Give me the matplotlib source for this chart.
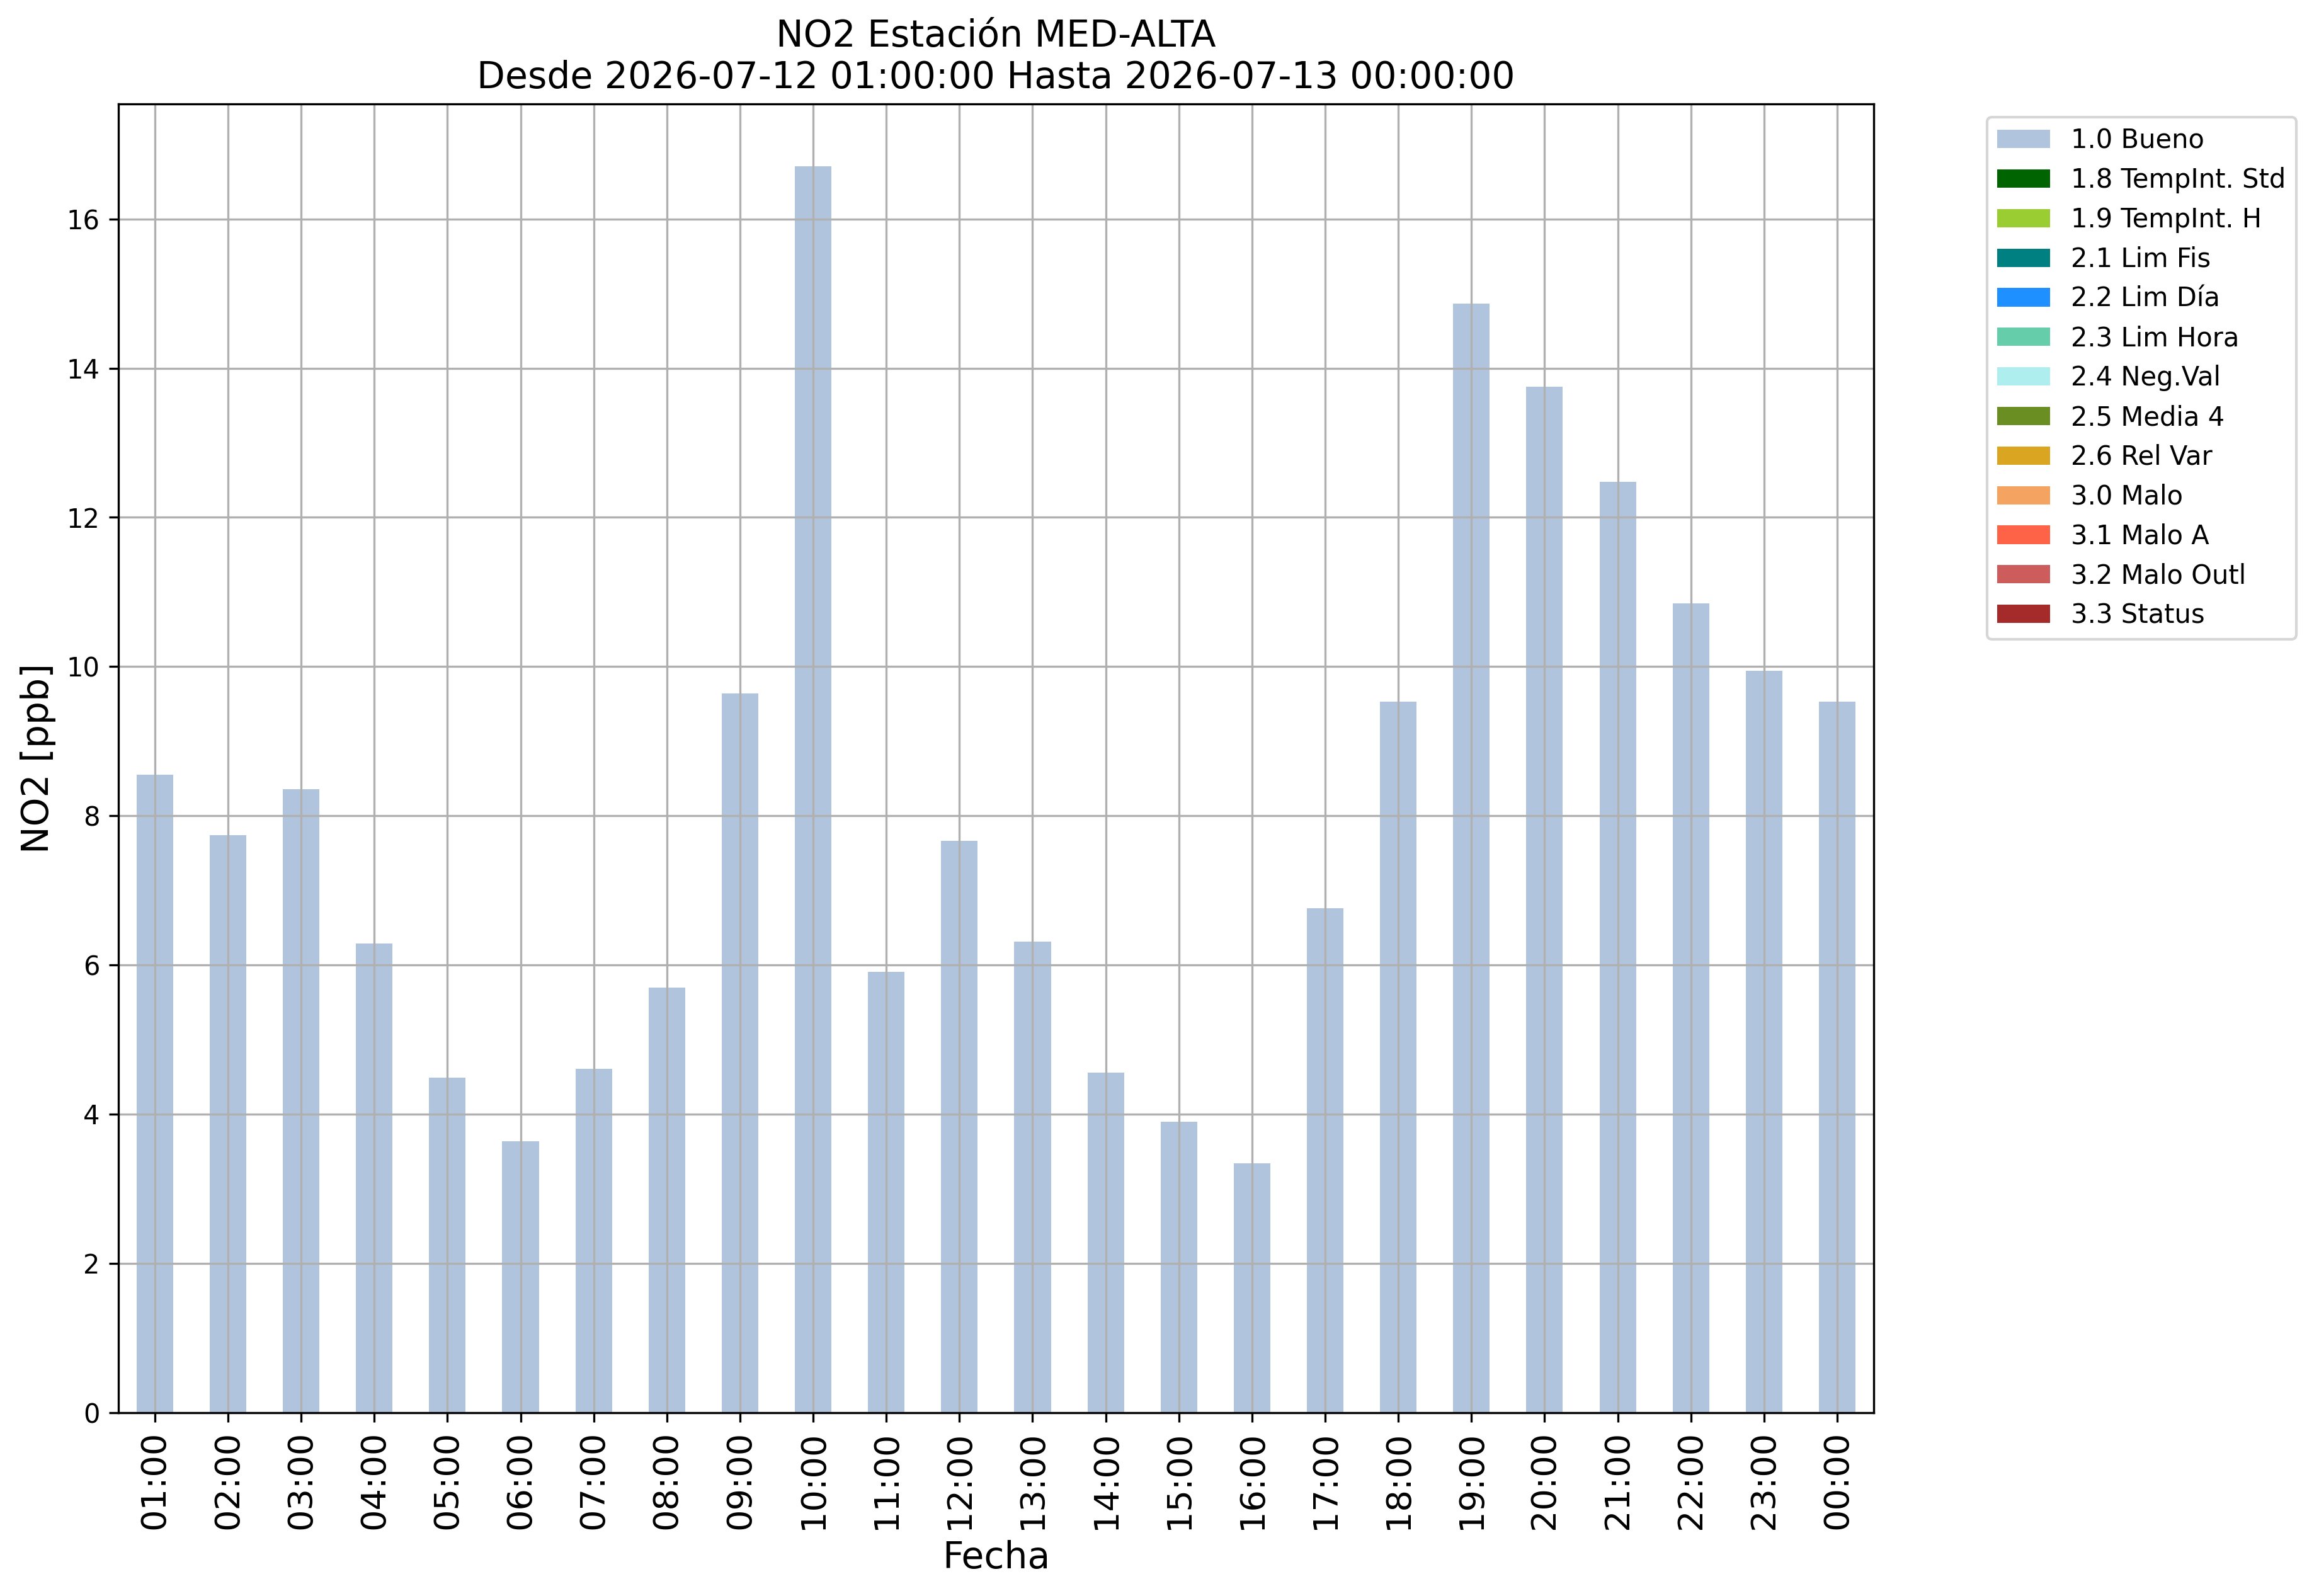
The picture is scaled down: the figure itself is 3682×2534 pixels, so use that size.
import matplotlib
matplotlib.use('Agg')
import matplotlib.pyplot as plt
import numpy as np

# ----------------- datos -----------------
horas = ['01:00', '02:00', '03:00', '04:00', '05:00', '06:00', '07:00', '08:00',
         '09:00', '10:00', '11:00', '12:00', '13:00', '14:00', '15:00', '16:00',
         '17:00', '18:00', '19:00', '20:00', '21:00', '22:00', '23:00', '00:00']
no2_bueno = [8.55, 7.74, 8.36, 6.29, 4.49, 3.64, 4.61, 5.70,
             9.64, 16.71, 5.91, 7.66, 6.31, 4.56, 3.90, 3.34,
             6.76, 9.53, 14.87, 13.75, 12.48, 10.85, 9.94, 9.53]

flags = ['1.0 Bueno', '1.8 TempInt. Std', '1.9 TempInt. H', '2.1 Lim Fis',
         '2.2 Lim Día', '2.3 Lim Hora', '2.4 Neg.Val', '2.5 Media 4',
         '2.6 Rel Var', '3.0 Malo', '3.1 Malo A', '3.2 Malo Outl', '3.3 Status']
colores = ['lightsteelblue', 'darkgreen', 'yellowgreen', 'teal', 'dodgerblue',
           'mediumaquamarine', 'paleturquoise', 'olivedrab', 'goldenrod',
           'sandybrown', 'tomato', 'indianred', 'brown']

# solo la bandera "Bueno" tiene datos, el resto vacías
valores = {f: [0.0] * len(horas) for f in flags}
valores['1.0 Bueno'] = no2_bueno

# ----------------- figura -----------------
fig, ax = plt.subplots(figsize=(3682 / 300, 2534 / 300), dpi=300)
fig.subplots_adjust(left=0.051, right=0.808, top=0.935, bottom=0.115)

x = np.arange(len(horas))
base = np.zeros(len(horas))
for f, c in zip(flags, colores):
    v = np.array(valores[f])
    ax.bar(x, v, width=0.5, bottom=base, color=c, label=f)
    base = base + v

ax.set_xlim(-0.5, len(horas) - 0.5)
ax.set_ylim(0, base.max() * 1.05)
ax.set_xticks(x)
ax.set_xticklabels(horas, rotation=90, fontsize=13)
ax.tick_params(axis='y', labelsize=10)
ax.grid(True)
ax.set_xlabel('Fecha', fontsize=14)
ax.set_ylabel('NO2 [ppb]', fontsize=14)
ax.set_title('NO2 Estación MED-ALTA\nDesde 2026-07-12 01:00:00 Hasta 2026-07-13 00:00:00',
             fontsize=14)
ax.legend(bbox_to_anchor=(1.057, 1), loc='upper left', fontsize=10)

fig.savefig('out.png', dpi=300)
